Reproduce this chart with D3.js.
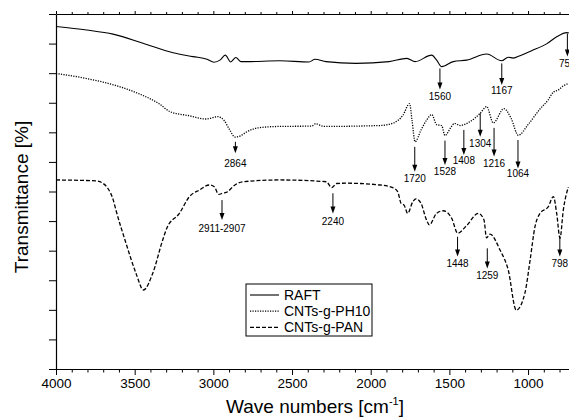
<!DOCTYPE html>
<html>
<head>
<meta charset="utf-8">
<script src="https://cdn.jsdelivr.net/npm/d3@7"></script>
<style>
  html, body { margin: 0; padding: 0; background: #fff; }
  svg { display: block; }
  text { font-family: Arial, "Liberation Sans", sans-serif; fill: #000; }
</style>
</head>
<body>
<div id="chart"></div>
<script>
// ---------- data ----------
const seriesNames = ["RAFT", "CNTs-g-PH10", "CNTs-g-PAN"];

const raftWave = [4000, 3805, 3638, 3447, 3256, 3129, 3040, 2996, 2958, 2924, 2890, 2857, 2824, 2793, 2576, 2392, 2354, 2284, 2093, 1883, 1770, 1718, 1612, 1581, 1549, 1475, 1390, 1263, 1168, 1126, 1094, 1051, 977, 882, 818, 754, 740];
const raftT    = [115.8, 114.6, 113.2, 110.1, 106.9, 105.6, 104.7, 103.7, 104.4, 106.1, 103.8, 105.3, 103.9, 103.9, 104.2, 103.8, 104.7, 103.9, 103.3, 103.9, 105.0, 103.9, 106.1, 104.4, 102.2, 103.9, 104.4, 106.5, 104.2, 105.4, 105.1, 105.9, 107.6, 109.9, 112.3, 113.7, 113.6];

const ph10Wave = [4000, 3788, 3619, 3471, 3343, 3276, 3153, 3047, 2972, 2930, 2899, 2862, 2824, 2793, 2704, 2576, 2375, 2351, 2297, 1941, 1858, 1795, 1753, 1737, 1718, 1680, 1644, 1612, 1581, 1549, 1528, 1489, 1467, 1432, 1407, 1369, 1305, 1263, 1221, 1153, 1108, 1062, 1000, 924, 873, 839, 808, 776, 744];
const ph10T    = [99.9, 98.0, 95.8, 93.0, 89.6, 87.0, 85.6, 84.5, 85.3, 83.9, 81.1, 78.4, 78.9, 80.0, 81.6, 82.0, 82.1, 82.9, 82.0, 82.3, 83.1, 85.8, 89.7, 83.9, 76.8, 80.8, 84.2, 86.0, 82.6, 82.3, 78.9, 81.8, 83.0, 82.3, 82.6, 83.6, 86.4, 88.7, 83.2, 88.0, 84.8, 79.0, 82.6, 87.9, 90.9, 93.6, 94.3, 95.7, 96.5];

const panWave = [4000, 3746, 3703, 3671, 3636, 3619, 3555, 3492, 3444, 3385, 3322, 3295, 3216, 3153, 3089, 3026, 2994, 2966, 2941, 2909, 2877, 2813, 2576, 2282, 2248, 2217, 2157, 1941, 1860, 1828, 1807, 1788, 1765, 1733, 1712, 1680, 1649, 1627, 1582, 1539, 1485, 1447, 1390, 1316, 1280, 1264, 1242, 1178, 1126, 1075, 1019, 987, 956, 924, 871, 839, 818, 797, 776, 744];
const panT    = [63.9, 63.6, 62.8, 61.1, 57.1, 53.7, 42.5, 32.4, 26.7, 32.4, 43.6, 47.7, 52.6, 58.2, 60.5, 62.2, 61.6, 59.0, 59.4, 59.9, 61.6, 63.3, 63.9, 63.3, 61.3, 62.7, 62.8, 62.2, 61.3, 59.9, 56.0, 55.4, 52.6, 56.5, 57.5, 56.0, 50.9, 48.7, 52.6, 53.5, 50.9, 45.9, 48.5, 52.6, 50.4, 44.3, 45.6, 40.2, 33.5, 19.9, 25.9, 36.8, 48.1, 52.6, 54.9, 58.3, 52.6, 44.2, 53.7, 61.5];

// peak annotations: label, wavenumber of arrow, arrow start, arrow tip, label centre (transmittance units)
const annLabels = ["750", "1560", "1167", "2864", "1720", "1528", "1408", "1304", "1216", "1064", "2911-2907", "2240", "1448", "1259", "798"];
const annWave   = [750, 1560, 1167, 2860, 1720, 1528, 1408, 1304, 1216, 1064, 2945, 2240, 1448, 1259, 798];
const annFrom   = [113.4, 101.6, 103.3, 76.8, 75.1, 77.2, 80.8, 86.5, 81.5, 77.4, 57.1, 59.4, 44.7, 40.8, 45.0];
const annTo     = [105.6, 94.5, 96.0, 72.9, 66.7, 69.0, 72.3, 78.5, 71.8, 67.8, 50.4, 52.6, 38.0, 34.0, 38.0];
const annText   = [103.3, 92.0, 94.3, 69.5, 64.5, 66.7, 70.6, 76.4, 69.5, 66.1, 47.6, 49.8, 35.7, 31.5, 35.7];

const xMajorTicks = [4000, 3500, 3000, 2500, 2000, 1500, 1000];
const xMinorTicks = d3.range(3900, 700, -100).filter(v => v % 500 !== 0);
const yTicks = d3.range(0, 121, 10);

const xTitle = "Wave numbers [cm";
const xTitleSup = "-1";
const yTitle = "Transmittance [%]";

// ---------- layout ----------
const W = 569, H = 419;
const mLeft = 56, mTop = 14, mBottom = 369;

const svg = d3.select("#chart").append("svg").attr("width", W).attr("height", H);

const x = d3.scaleLinear().domain([4000, 700]).range([mLeft, mLeft + 3300 * 0.15735]);
const y = d3.scaleLinear().domain([0, 120]).range([mBottom, mTop]);

// ---------- axes ----------
const axisW = 1.2;
const gB = svg.append("g").attr("transform", `translate(0,${mBottom})`)
  .call(d3.axisBottom(x).tickValues(xMajorTicks).tickSize(6).tickSizeOuter(0).tickFormat(d3.format("d")));
gB.selectAll("text").attr("font-size", "13.5px").attr("y", 9)
  .style("font-family", "Arial, 'Liberation Sans', sans-serif");
svg.append("g").attr("transform", `translate(0,${mBottom})`)
  .call(d3.axisBottom(x).tickValues(xMinorTicks).tickSize(3.5).tickSizeOuter(0).tickFormat(""))
  .select(".domain").remove();
svg.append("g").attr("transform", `translate(0,${mTop})`)
  .call(d3.axisTop(x).tickValues(xMajorTicks).tickSize(3).tickSizeOuter(0).tickFormat(""));
svg.append("g").attr("transform", `translate(0,${mTop})`)
  .call(d3.axisTop(x).tickValues(xMinorTicks).tickSize(2).tickSizeOuter(0).tickFormat(""))
  .select(".domain").remove();
svg.append("g").attr("transform", `translate(${mLeft},0)`)
  .call(d3.axisLeft(y).tickValues(yTicks).tickSize(7).tickSizeOuter(0).tickFormat(""));

svg.selectAll(".domain").attr("stroke", "#000").attr("stroke-width", axisW);
svg.selectAll(".tick line").attr("stroke", "#000").attr("stroke-width", 1);

// ---------- curves ----------
const line = d3.line().x(d => x(d[0])).y(d => y(d[1])).curve(d3.curveMonotoneX);
const styles = [
  { dash: null, width: 1.1 },
  { dash: "1.2,1.3", width: 1.3 },
  { dash: "4,2", width: 1.3 }
];
const series = [
  d3.zip(raftWave, raftT),
  d3.zip(ph10Wave, ph10T),
  d3.zip(panWave, panT)
];
series.forEach((s, i) => {
  svg.append("path").datum(s).attr("d", line)
    .attr("fill", "none").attr("stroke", "#000")
    .attr("stroke-width", styles[i].width)
    .attr("stroke-dasharray", styles[i].dash);
});

// ---------- annotations ----------
annLabels.forEach((lab, i) => {
  const ax = x(annWave[i]);
  const y0 = y(annFrom[i]), y1 = y(annTo[i]);
  svg.append("line").attr("x1", ax).attr("x2", ax).attr("y1", y0).attr("y2", y1 - 6)
    .attr("stroke", "#000").attr("stroke-width", 1);
  svg.append("path").attr("d", `M${ax - 2.5},${y1 - 7} L${ax + 2.5},${y1 - 7} L${ax},${y1} Z`).attr("fill", "#000");
  svg.append("text").attr("x", ax).attr("y", y(annText[i]) + 3.6)
    .attr("text-anchor", "middle").attr("font-size", "10px").text(lab);
});

// ---------- legend ----------
const lg = svg.append("g");
lg.append("rect").attr("x", 246).attr("y", 284).attr("width", 126).attr("height", 52)
  .attr("fill", "#fff").attr("stroke", "#000").attr("stroke-width", 1);
seriesNames.forEach((n, i) => {
  const ly = 295 + i * 16.2;
  lg.append("line").attr("x1", 250).attr("x2", 279).attr("y1", ly).attr("y2", ly)
    .attr("stroke", "#000").attr("stroke-width", styles[i].width)
    .attr("stroke-dasharray", styles[i].dash);
  lg.append("text").attr("x", 284).attr("y", ly + 5).attr("font-size", "14px").text(n);
});

// ---------- titles ----------
const xt = svg.append("text").attr("x", 315).attr("y", 413).attr("text-anchor", "middle").attr("font-size", "19px");
xt.append("tspan").text(xTitle);
xt.append("tspan").attr("font-size", "11px").attr("dy", "-8").text(xTitleSup);
xt.append("tspan").attr("dy", "8").text("]");

svg.append("text").attr("transform", "translate(28,197) rotate(-90)")
  .attr("text-anchor", "middle").attr("font-size", "19px").text(yTitle);
</script>
</body>
</html>
